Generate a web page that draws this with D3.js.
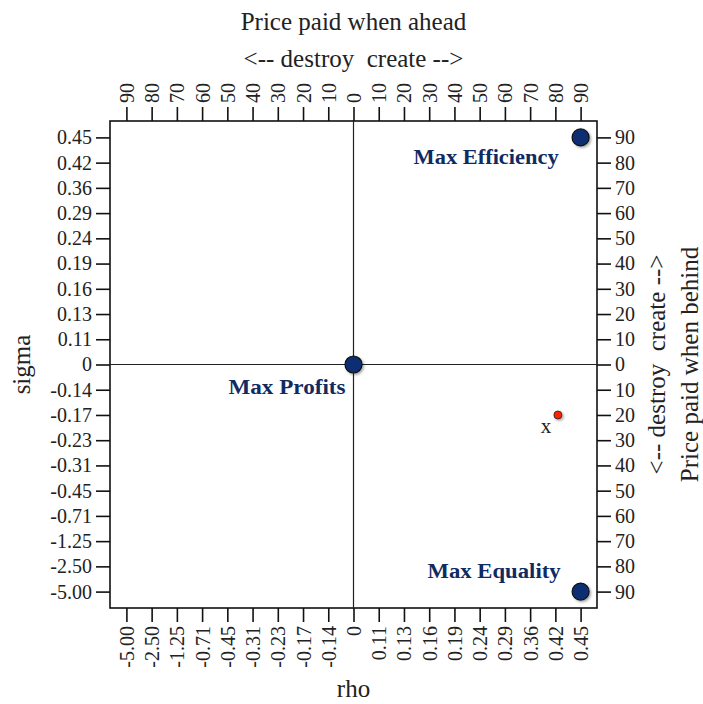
<!DOCTYPE html>
<html>
<head>
<meta charset="utf-8">
<script src="https://cdn.jsdelivr.net/npm/d3@7"></script>
<style>
  html, body { margin: 0; padding: 0; background: #fff; }
  svg { display: block; }
  .axis text { font-family: "Liberation Serif", "DejaVu Serif", serif; font-size: 20px; fill: #222; }
  .axis line { stroke: #111; stroke-width: 1.6px; }
  .title { font-family: "Liberation Serif", "DejaVu Serif", serif; font-size: 25px; fill: #222; }
  .tag { font-family: "Liberation Serif", "DejaVu Serif", serif; font-weight: bold; font-size: 20px; fill: #0f2b62; }
</style>
</head>
<body>
<svg id="chart" width="703" height="704"></svg>
<script>
// Positions along both axes (price paid, negative = destroy, positive = create)
const tickPositions = [-90, -80, -70, -60, -50, -40, -30, -20, -10, 0, 10, 20, 30, 40, 50, 60, 70, 80, 90];
// Parameter values printed at each position
const paramLabels = ["-5.00", "-2.50", "-1.25", "-0.71", "-0.45", "-0.31", "-0.23", "-0.17", "-0.14", "0",
                     "0.11", "0.13", "0.16", "0.19", "0.24", "0.29", "0.36", "0.42", "0.45"];
// Price-paid labels printed at each position
const priceLabels = ["90", "80", "70", "60", "50", "40", "30", "20", "10", "0",
                     "10", "20", "30", "40", "50", "60", "70", "80", "90"];

// Named benchmark points: [ahead, behind]
const benchmarkNames = ["Max Efficiency", "Max Profits", "Max Equality"];
const benchmarkAhead = [90, 0, 90];
const benchmarkBehind = [90, 0, -90];

// Observed point
const obsName = ["x"];
const obsAhead = [81];
const obsBehind = [-20];

const svg = d3.select("#chart");
const plotL = 110, plotR = 597, plotT = 121, plotB = 608;

const x = d3.scaleLinear().domain([-96.5, 96.5]).range([plotL, plotR]);
const y = d3.scaleLinear().domain([-96.5, 96.5]).range([plotB, plotT]);

const defs = svg.append("defs");
const shadow = defs.append("filter").attr("id", "shadow")
  .attr("x", "-50%").attr("y", "-50%").attr("width", "200%").attr("height", "200%");
shadow.append("feDropShadow").attr("dx", 1.5).attr("dy", 1.5)
  .attr("stdDeviation", 1.2).attr("flood-color", "#000").attr("flood-opacity", 0.35);

const labelAt = (arr) => (d) => arr[tickPositions.indexOf(d)];
const tickLen = 14, pad = 4;

// Top axis: price paid when ahead
const gTop = svg.append("g").attr("class", "axis").attr("transform", `translate(0,${plotT})`)
  .call(d3.axisTop(x).tickValues(tickPositions).tickFormat(labelAt(priceLabels)).tickSize(tickLen).tickSizeOuter(0));
gTop.selectAll("text").attr("transform", "rotate(-90)")
  .attr("x", tickLen + pad).attr("y", 0).attr("dy", "0.35em").attr("text-anchor", "start");

// Bottom axis: rho
const gBottom = svg.append("g").attr("class", "axis").attr("transform", `translate(0,${plotB})`)
  .call(d3.axisBottom(x).tickValues(tickPositions).tickFormat(labelAt(paramLabels)).tickSize(tickLen).tickSizeOuter(0));
gBottom.selectAll("text").attr("transform", "rotate(-90)")
  .attr("x", -(tickLen + pad)).attr("y", 0).attr("dy", "0.35em").attr("text-anchor", "end");

// Left axis: sigma
svg.append("g").attr("class", "axis").attr("transform", `translate(${plotL},0)`)
  .call(d3.axisLeft(y).tickValues(tickPositions).tickFormat(labelAt(paramLabels)).tickSize(tickLen).tickPadding(pad).tickSizeOuter(0));

// Right axis: price paid when behind
svg.append("g").attr("class", "axis").attr("transform", `translate(${plotR},0)`)
  .call(d3.axisRight(y).tickValues(tickPositions).tickFormat(labelAt(priceLabels)).tickSize(tickLen).tickPadding(pad).tickSizeOuter(0));

svg.selectAll(".axis .domain").remove();

// Plot frame
svg.append("rect").attr("x", plotL).attr("y", plotT)
  .attr("width", plotR - plotL).attr("height", plotB - plotT)
  .attr("fill", "none").attr("stroke", "#111").attr("stroke-width", 1.6);

// Zero lines
svg.append("line").attr("x1", x(0)).attr("x2", x(0)).attr("y1", plotT).attr("y2", plotB)
  .attr("stroke", "#222").attr("stroke-width", 1.2);
svg.append("line").attr("x1", plotL).attr("x2", plotR).attr("y1", y(0)).attr("y2", y(0))
  .attr("stroke", "#222").attr("stroke-width", 1.2);

// Axis titles
const cx = (plotL + plotR) / 2, cy = (plotT + plotB) / 2;
svg.append("text").attr("class", "title").attr("x", cx).attr("y", 30).attr("text-anchor", "middle")
  .text("Price paid when ahead");
svg.append("text").attr("class", "title").attr("x", cx).attr("y", 67).attr("text-anchor", "middle")
  .attr("xml:space", "preserve").text("<-- destroy  create -->");
svg.append("text").attr("class", "title").attr("x", cx).attr("y", 697).attr("text-anchor", "middle")
  .text("rho");
svg.append("text").attr("class", "title").attr("text-anchor", "middle")
  .attr("transform", `translate(30,${cy}) rotate(-90)`).text("sigma");
svg.append("text").attr("class", "title").attr("text-anchor", "middle").attr("xml:space", "preserve")
  .attr("transform", `translate(665,${cy}) rotate(-90)`).text("<-- destroy  create -->");
svg.append("text").attr("class", "title").attr("text-anchor", "middle")
  .attr("transform", `translate(698,${cy}) rotate(-90)`).text("Price paid when behind");

// Benchmark points
svg.append("g").selectAll("circle").data(benchmarkNames).join("circle")
  .attr("cx", (d, i) => x(benchmarkAhead[i]))
  .attr("cy", (d, i) => y(benchmarkBehind[i]))
  .attr("r", 8.5)
  .attr("fill", "#0a2f72").attr("stroke", "#111").attr("stroke-width", 1.2)
  .attr("filter", "url(#shadow)");

// Benchmark labels, placed to the lower-left / upper-left of each point
const labelOffsets = [[-22, 27, 145], [-8, 29, 117], [-20, -14, 133]];
svg.append("g").selectAll("text").data(benchmarkNames).join("text")
  .attr("class", "tag").attr("text-anchor", "end")
  .attr("x", (d, i) => x(benchmarkAhead[i]) + labelOffsets[i][0])
  .attr("y", (d, i) => y(benchmarkBehind[i]) + labelOffsets[i][1])
  .attr("textLength", (d, i) => labelOffsets[i][2])
  .attr("lengthAdjust", "spacingAndGlyphs")
  .text(d => d);

// Observed point
svg.append("g").selectAll("circle").data(obsName).join("circle")
  .attr("cx", (d, i) => x(obsAhead[i]))
  .attr("cy", (d, i) => y(obsBehind[i]))
  .attr("r", 4)
  .attr("fill", "#ff2200").attr("stroke", "#222").attr("stroke-width", 0.8)
  .attr("filter", "url(#shadow)");
svg.append("g").selectAll("text").data(obsName).join("text")
  .attr("class", "title").attr("text-anchor", "middle").style("font-size", "21px")
  .attr("x", (d, i) => x(obsAhead[i]) - 12)
  .attr("y", (d, i) => y(obsBehind[i]) + 18)
  .text(d => d);
</script>
</body>
</html>
